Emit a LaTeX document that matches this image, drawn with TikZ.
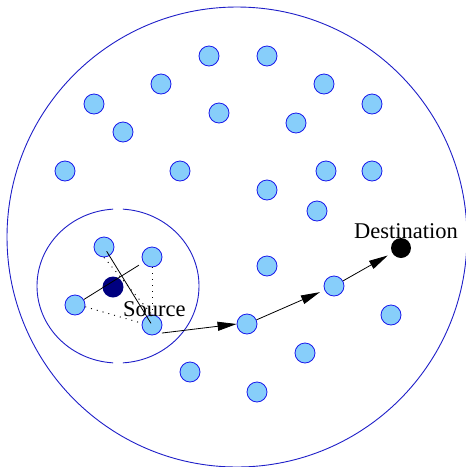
\documentclass[tikz,border=0pt]{standalone}
\usepackage{fontspec}
\setmainfont{Liberation Serif}
\usepackage{xcolor}
\usepackage{tikz}
\usetikzlibrary{arrows.meta, positioning}

\definecolor{hostfill}{RGB}{135,206,250}
\definecolor{hostline}{RGB}{25,25,235}
\definecolor{ringline}{RGB}{30,30,200}
\definecolor{srcfill}{RGB}{0,0,128}

\begin{document}
\begin{tikzpicture}[x=1pt, y=-1pt,
    host/.style={circle, draw=hostline, fill=hostfill, line width=0.8pt,
        minimum size=20pt, inner sep=0pt},
    ring/.style={draw=ringline, line width=0.9pt},
    link/.style={line width=0.8pt},
    probe/.style={line width=0.9pt, dash pattern=on 1pt off 5pt},
    hop/.style={line width=0.8pt, -{Triangle[length=19pt, width=9pt]}},
    lbl/.style={inner sep=0pt, font=\fontsize{22.5}{27}\selectfont}]
    \useasboundingbox (0,0) rectangle (466,467);

    % Vùng mạng
    \draw[ring] (237,237) circle[radius=230];
    % Vùng lân cận của nguồn
    \draw[ring] (118,286) ++(93.5:81 and 77)
        arc[start angle=93.5, end angle=266.5, x radius=81, y radius=77];
    \draw[ring] (118,286) ++(-86.5:81 and 77)
        arc[start angle=-86.5, end angle=86.5, x radius=81, y radius=77];

    % Các nút khác
    \foreach \x/\y [count=\i] in {209/56, 267/56, 161/84, 324/84, 94/104,
        372/104, 219/113, 296/123, 123/132, 65/171, 180/171, 326/171,
        372/171, 267/190, 317/211, 267/266, 391/315, 305/353, 190/372,
        257/392}
        \node[host] (h\i) at (\x,\y) {};

    % Các nút lân cận
    \node[host] (nTop) at (104,247) {};
    \node[host] (nRight) at (152,257) {};
    \node[host] (nLeft) at (75,305) {};
    \node[host] (nLow) at (152,325) {};
    \node[circle, fill=srcfill, minimum size=21pt, inner sep=0pt] (src) at (113,287) {};

    % Các nút trên đường đi
    \node[host] (nMid) at (247,324) {};
    \node[host] (nHop) at (334,286) {};
    \node[circle, fill=black, minimum size=20pt, inner sep=0pt] (dst) at (401,248) {};

    % Liên kết
    \draw[link, shorten <=5pt, shorten >=2pt] (nTop.center) -- (nLow.center);
    \draw[link, shorten >=5pt] (nLeft) -- (nRight);
    \draw[probe] (nTop.south) -- (nLow.north);
    \draw[probe] (nRight.south) -- (nLow.north);
    \draw[probe] (nLeft.-10) -- (nLow.170);

    % Nhãn
    \node[lbl, anchor=base west] (srclbl) at (123,316) {Source};
    \node[lbl, anchor=base west] (dstlbl) at (354,238) {Destination};

    % Đường đi
    \draw[hop, shorten <=4pt] (nLow.-55) -- (nMid.west);
    \draw[hop, shorten >=5pt] (nMid) -- (nHop);
    \draw[hop, shorten >=5pt] (nHop) -- (dst);
\end{tikzpicture}
\end{document}
